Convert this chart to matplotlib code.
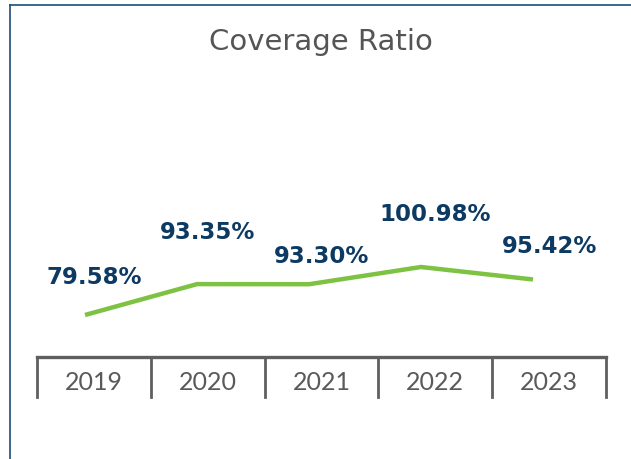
import matplotlib.pyplot as plt
import matplotlib.transforms as mtransforms
from matplotlib.lines import Line2D

years = ["2019", "2020", "2021", "2022", "2023"]
ratio = [79.58, 93.35, 93.30, 100.98, 95.42]
labels = ["79.58%", "93.35%", "93.30%", "100.98%", "95.42%"]
# vertical label offsets (points) above each point, alternating like the original
label_offsets = [27, 37, 20, 38, 24]

W, H = 631, 459
fig = plt.figure(figsize=(W / 100, H / 100), dpi=100)
fig.patch.set_facecolor("white")


def px_rect(x0, y0, x1, y1):
    return [x0 / W, 1 - y1 / H, (x1 - x0) / W, (y1 - y0) / H]


# panel border (left and top)
border = "#1f4e79"
fig.add_artist(Line2D([9.5 / W, 9.5 / W], [0, 1 - 5 / H], color=border, lw=1.2))
fig.add_artist(Line2D([9.5 / W, 1], [1 - 5 / H, 1 - 5 / H], color=border, lw=1.2))

fig.text(321 / W, 1 - 42 / H, "Coverage Ratio", ha="center", va="center",
         fontsize=21, color="#555555")

# category strip
ax_cat = fig.add_axes(px_rect(37, 357, 606, 397))
ax_cat.set_xlim(-0.5, len(years) - 0.5)
ax_cat.set_ylim(0, 1)
ax_cat.axis("off")
grey = "#5f5f5f"
ax_cat.axhline(1, color=grey, lw=2.4, clip_on=False)
for b in range(len(years) + 1):
    ax_cat.axvline(b - 0.5, color=grey, lw=2.0, clip_on=False)
for i, yr in enumerate(years):
    ax_cat.text(i, 0.35, yr, ha="center", va="center", fontsize=18,
                family="Lato", fontweight="normal", color="#5a5a5a")

# line
ax_line = fig.add_axes(px_rect(37, 180, 606, 340))
x_left = (37 - 85) / 112
x_right = (606 - 85) / 112
ax_line.set_xlim(x_left, x_right)
ax_line.set_ylim(68.43, 139.77)
ax_line.axis("off")
ax_line.plot(range(len(ratio)), ratio, color="#7dc242", lw=3.2,
             solid_capstyle="butt")

trans = mtransforms.blended_transform_factory(ax_cat.transData, ax_line.transData)
for i, (v, lab, off) in enumerate(zip(ratio, labels, label_offsets)):
    ax_line.annotate(lab, (i, v), xycoords=trans, xytext=(0, off),
                     textcoords="offset points", ha="center", va="center",
                     fontsize=16.5, fontweight="bold", color="#0d3a63",
                     annotation_clip=False)

fig.savefig("out.png", dpi=100)
